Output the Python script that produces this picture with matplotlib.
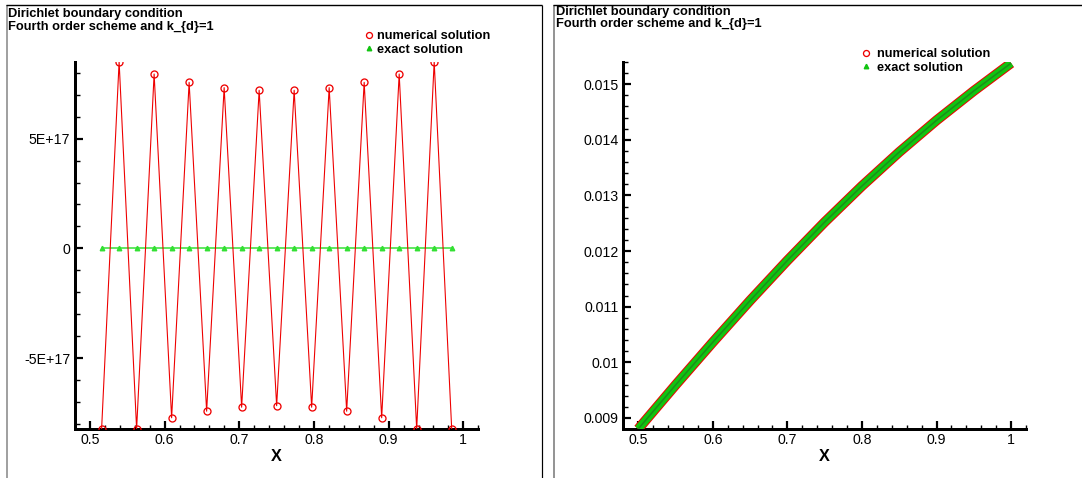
import matplotlib
matplotlib.use("Agg")
import matplotlib.pyplot as plt
from matplotlib.lines import Line2D
from matplotlib.ticker import FixedLocator, FuncFormatter, MultipleLocator

plt.rcParams["font.family"] = ["Liberation Sans", "DejaVu Sans"]

W, H, DPI = 1082, 478, 100

# ---- coarse grid (left frame) ----
x_coarse = [0.515625, 0.5390625, 0.5625, 0.5859375, 0.609375, 0.6328125, 0.65625,
            0.6796875, 0.703125, 0.7265625, 0.75, 0.7734375, 0.796875, 0.8203125,
            0.84375, 0.8671875, 0.890625, 0.9140625, 0.9375, 0.9609375, 0.984375]
numerical_coarse = [-8.22e17, 8.50e17, -8.22e17, 7.94e17, -7.71e17, 7.56e17, -7.41e17,
                    7.32e17, -7.23e17, 7.20e17, -7.16e17, 7.20e17, -7.23e17, 7.32e17,
                    -7.41e17, 7.56e17, -7.71e17, 7.94e17, -8.22e17, 8.50e17, -8.22e17]
exact_coarse = [0.0, 0.0, 0.0, 0.0, 0.0, 0.0, 0.0, 0.0, 0.0, 0.0, 0.0,
                0.0, 0.0, 0.0, 0.0, 0.0, 0.0, 0.0, 0.0, 0.0, 0.0]

# ---- fine grid (right frame) ----
x_fine = [0.50, 0.55, 0.60, 0.65, 0.70, 0.75, 0.80, 0.85, 0.90, 0.95, 1.00]
numerical_fine = [0.00880, 0.00959, 0.01036, 0.01111, 0.01183, 0.01252,
                  0.01317, 0.01378, 0.01435, 0.01488, 0.01538]
exact_fine = [0.00880, 0.00959, 0.01036, 0.01111, 0.01183, 0.01252,
              0.01317, 0.01378, 0.01435, 0.01488, 0.01538]

x_ticks = [0.5, 0.6, 0.7, 0.8, 0.9, 1.0]
left_y_ticks = [-5e17, 0.0, 5e17]
right_y_ticks = [0.009, 0.010, 0.011, 0.012, 0.013, 0.014, 0.015]

title_lines = ["Dirichlet boundary condition", "Fourth order scheme and k_{d}=1"]
labels = ["numerical solution", "exact solution"]

RED = "#ee0000"
GREEN_LINE = "#33e033"
GREEN_BAND = "#11c411"
GREEN_CORE = "#1a8f1a"

PX = 72.0 / DPI  # points per pixel

fig = plt.figure(figsize=(W / DPI, H / DPI), dpi=DPI)
fig.patch.set_facecolor("white")


def px_axes(x0, y0, x1, y1):
    return fig.add_axes([x0 / W, 1 - y1 / H, (x1 - x0) / W, (y1 - y0) / H])


def style_axes(ax):
    for side in ("top", "right"):
        ax.spines[side].set_visible(False)
    for side in ("left", "bottom"):
        ax.spines[side].set_linewidth(3 * PX)
        ax.spines[side].set_color("black")
    ax.tick_params(which="both", direction="in", top=False, right=False,
                   colors="black", labelsize=10.2)
    ax.tick_params(which="major", length=8 * PX, width=2.2 * PX)
    ax.tick_params(which="minor", length=4.5 * PX, width=1.4 * PX)
    ax.tick_params(axis="x", which="major", pad=3)
    ax.tick_params(axis="y", which="major", pad=3.5)
    ax.xaxis.set_major_locator(FixedLocator(x_ticks))
    ax.xaxis.set_minor_locator(MultipleLocator(0.02))
    ax.xaxis.set_major_formatter(FuncFormatter(lambda v, p: f"{v:g}"))
    ax.set_xlim(0.48, 1.02)
    ax.set_xlabel("X", fontsize=11.7, fontweight="bold", labelpad=1)
    ax.set_facecolor("white")


def frame_line(x0, y0, x1, y1, color, lw_px):
    fig.add_artist(Line2D([x0 / W, x1 / W], [1 - y0 / H, 1 - y1 / H],
                          transform=fig.transFigure, color=color,
                          linewidth=lw_px * PX, solid_capstyle="butt"))


def add_title(x, y1, y2):
    fig.text(x / W, 1 - y1 / H, title_lines[0], fontsize=9.3, fontweight="bold",
             va="center", ha="left")
    fig.text(x / W, 1 - y2 / H, title_lines[1], fontsize=9.3, fontweight="bold",
             va="center", ha="left")


def add_legend(ax, x_handle, y_mid, textpad):
    handles = [
        Line2D([], [], linestyle="none", marker="o", markersize=6 * PX,
               markerfacecolor="none", markeredgecolor=RED, markeredgewidth=1.3 * PX),
        Line2D([], [], linestyle="none", marker="^", markersize=4.5 * PX,
               markerfacecolor=GREEN_BAND, markeredgecolor=GREEN_BAND),
    ]
    ax.legend(handles, labels, loc="center left",
              bbox_to_anchor=(x_handle / W, 1 - y_mid / H),
              bbox_transform=fig.transFigure, frameon=False, borderpad=0,
              borderaxespad=0, handlelength=0.6, handletextpad=textpad,
              labelspacing=0.15, numpoints=1,
              prop={"size": 9.2, "weight": "bold"})


# ---- frames ----
frame_line(6.5, 5, 6.5, H, "#8a8a8a", 1.6)
frame_line(6, 5, 541.5, 5, "black", 1.4)
frame_line(541.5, 5, 541.5, H, "black", 1.2)
frame_line(553.5, 5, 553.5, H, "#8a8a8a", 1.8)
frame_line(553, 5, W, 5, "black", 1.4)

# ---- left frame: coarse grid ----
axL = px_axes(75, 61.7, 478.3, 429)
style_axes(axL)
axL.plot(x_coarse, exact_coarse, color=GREEN_LINE, linewidth=1.5 * PX,
         marker="^", markersize=4.5 * PX, markerfacecolor=GREEN_LINE,
         markeredgecolor=GREEN_LINE, zorder=3)
axL.plot(x_coarse, numerical_coarse, color=RED, linewidth=1.1 * PX,
         marker="o", markersize=7 * PX, markerfacecolor="none",
         markeredgecolor=RED, markeredgewidth=1.3 * PX, zorder=4)
axL.set_ylim(-8.22e17, 8.5e17)
axL.yaxis.set_major_locator(FixedLocator(left_y_ticks))
axL.yaxis.set_minor_locator(MultipleLocator(1e17))
axL.yaxis.set_major_formatter(FuncFormatter(lambda v, p: "0" if v == 0 else f"{v:.0E}"))
add_title(8, 14, 27)
add_legend(axL, 365.5, 43, 0.28)

# ---- right frame: fine grid ----
axR = px_axes(623.3, 62, 1026, 429)
style_axes(axR)
axR.plot(x_fine, numerical_fine, color=RED, linewidth=10 * PX,
         solid_capstyle="butt", solid_joinstyle="round", zorder=3)
axR.plot(x_fine, exact_fine, color=GREEN_BAND, linewidth=8 * PX,
         solid_capstyle="butt", solid_joinstyle="round", zorder=4)
axR.plot(x_fine, exact_fine, color=GREEN_CORE, linewidth=1.6 * PX,
         solid_capstyle="butt", zorder=5)
axR.set_ylim(0.0088, 0.0154)
axR.yaxis.set_major_locator(FixedLocator(right_y_ticks))
axR.yaxis.set_minor_locator(MultipleLocator(0.0002))
axR.yaxis.set_major_formatter(FuncFormatter(lambda v, p: f"{v:g}"))
add_title(556, 11.5, 24.5)
add_legend(axR, 862, 61, 0.6)

fig.savefig("out.png", dpi=DPI, facecolor="white")
